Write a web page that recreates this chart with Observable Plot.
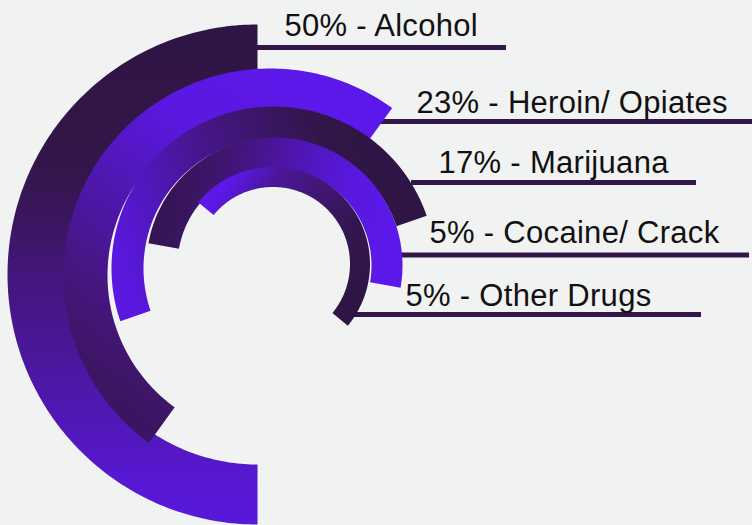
<!DOCTYPE html>
<html>
<head>
<meta charset="utf-8">
<script src="https://cdn.jsdelivr.net/npm/d3@7"></script>
<script src="https://cdn.jsdelivr.net/npm/@observablehq/plot@0.6"></script>
<style>
  html, body { margin: 0; padding: 0; background: #f1f2f2; }
  #chart svg text { letter-spacing: 0.3px; }
</style>
</head>
<body>
<div id="chart"></div>
<script>
// ---------------- DATA ----------------
const categories  = ["Alcohol", "Heroin/ Opiates", "Marijuana", "Cocaine/ Crack", "Other Drugs"];
const percentages = [50, 23, 17, 5, 5];
// angle (degrees, clockwise from 12 o'clock) where each half-ring meets its label line
const arcEndDeg   = [0, 36, 71, 100, 129.5];
// angular sweep of each ring (degrees)
const arcSweepDeg = [180, 180, 180, 180, 180];

// ---------------- LAYOUT / STYLE ----------------
const W = 752, H = 525;
const ringCenter = [[257, 274], [270, 275], [273, 268], [274, 265], [272.5, 263.5]];
const ringOuter  = [250, 207, 162, 128, 97];
const ringInner  = [190, 163, 130, 97, 77];
const labelX        = [284, 416, 438, 429, 405];
const labelBaseline = [35, 112, 172, 242, 305];
const leaderY       = [47, 121, 182, 254.5, 314];
const leaderEnd     = [506, 752, 696, 749, 701];
const DARK = "#2f1545", BRIGHT = "#5c18ea";
// gradient stops, offset 0 = the label end of the ring, 1 = the other end
const ringStops = [
  [[0, DARK], [0.25, "#331649"], [0.4, "#3c1664"], [0.5, "#43167c"], [0.7, "#4b179e"], [1, "#5818d8"]],
  [[0, BRIGHT], [0.3, "#5a18e0"], [0.5, "#5117bc"], [0.8, "#46167f"], [1, "#3c1562"]],
  [[0, DARK], [0.2, "#311649"], [0.35, "#3a1662"], [0.6, "#46168c"], [0.8, "#5017b8"], [1, "#5a18e0"]],
  [[0, BRIGHT], [0.25, "#5818dc"], [0.45, "#5016b8"], [0.6, "#4a1598"], [0.8, "#3f1570"], [1, "#361556"]],
  [[0, DARK], [0.3, "#331650"], [0.5, "#3e166c"], [0.8, "#4b1699"], [1, BRIGHT]]
];

const rows = categories.map((category, i) => ({
  i, category, pct: percentages[i], end: arcEndDeg[i], sweep: arcSweepDeg[i]
}));

function polar(i, r, deg) {
  const a = deg * Math.PI / 180;
  return { x: ringCenter[i][0] + r * Math.sin(a), y: ringCenter[i][1] - r * Math.cos(a) };
}
const rMid = i => (ringOuter[i] + ringInner[i]) / 2;

// ring outlines (outer edge from start to end, inner edge back)
const ringPolys = rows.map(d => {
  const n = 180, start = d.end - d.sweep, pts = [];
  for (let k = 0; k <= n; k++) pts.push(polar(d.i, ringOuter[d.i], start + d.sweep * k / n));
  for (let k = n; k >= 0; k--) pts.push(polar(d.i, ringInner[d.i], start + d.sweep * k / n));
  return pts;
});

function gradientDefs(index, scales) {
  const sx = scales && typeof scales.x === "function" ? scales.x : (v => v);
  const sy = scales && typeof scales.y === "function" ? scales.y : (v => v);
  const g = d3.create("svg:g");
  const defs = g.append("defs");
  rows.forEach(d => {
    const a = polar(d.i, rMid(d.i), d.end);
    const b = polar(d.i, rMid(d.i), d.end - d.sweep);
    const lg = defs.append("linearGradient")
      .attr("id", `ring-grad-${d.i}`)
      .attr("gradientUnits", "userSpaceOnUse")
      .attr("x1", sx(a.x)).attr("y1", sy(a.y))
      .attr("x2", sx(b.x)).attr("y2", sy(b.y));
    ringStops[d.i].forEach(([o, c]) => lg.append("stop").attr("offset", o).attr("stop-color", c));
  });
  return g.node();
}

const chart = Plot.plot({
  width: W,
  height: H,
  margin: 0,
  x: { domain: [0, W], axis: null },
  y: { domain: [H, 0], axis: null },
  style: { background: "#f1f2f2", fontFamily: "'Liberation Sans', Arial, sans-serif" },
  marks: [
    gradientDefs,
    Plot.ruleY(rows, {
      y: d => leaderY[d.i],
      x1: d => polar(d.i, rMid(d.i), d.end).x,
      x2: d => leaderEnd[d.i],
      stroke: "#331649",
      strokeWidth: 5
    }),
    ...ringPolys.map((pts, i) => Plot.line(pts, {
      x: "x", y: "y",
      fill: `url(#ring-grad-${i})`,
      stroke: "none",
      curve: "linear"
    })),
    Plot.text(rows, {
      x: d => labelX[d.i],
      y: d => labelBaseline[d.i],
      text: d => `${d.pct}% - ${d.category}`,
      textAnchor: "start",
      lineAnchor: "bottom",
      fontSize: 31,
      fill: "#111"
    })
  ]
});
document.getElementById("chart").appendChild(chart);
</script>
</body>
</html>
